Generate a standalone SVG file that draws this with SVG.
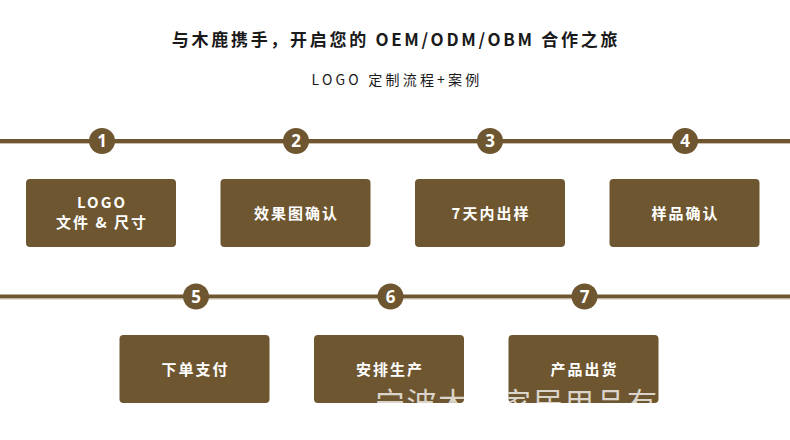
<svg xmlns="http://www.w3.org/2000/svg" width="790" height="440" viewBox="0 0 790 440">
<defs>
<style>
.t{font-family:"Noto Sans CJK SC","Noto Sans",sans-serif;fill:#1a1a1a;text-anchor:middle}
.box{fill:#6e5630}
.bt{font-family:"Noto Sans CJK SC","Noto Sans",sans-serif;font-weight:bold;font-size:15px;fill:#ffffff;text-anchor:middle;letter-spacing:2px}
.num{font-family:"Noto Sans","Noto Sans CJK SC",sans-serif;font-weight:bold;font-size:17px;fill:#ffffff;text-anchor:middle}
.c{fill:#6e5630}
.ln{fill:#6e5630}
.lnh{fill:#cbbfae}
.wm{font-family:"Noto Sans CJK SC",sans-serif;font-size:30px;fill:#ffffff;fill-opacity:0.75;letter-spacing:1.5px}
</style>
<clipPath id="boxclip">
<rect x="119.5" y="335" width="150" height="68" rx="4"/>
<rect x="314" y="335" width="150" height="68" rx="4"/>
<rect x="508.5" y="335" width="150" height="68" rx="4"/>
</clipPath>
</defs>
<rect width="790" height="440" fill="#ffffff"/>
<text class="t" x="396" y="46" font-size="17" font-weight="bold" letter-spacing="2.7">与木鹿携手，开启您的 OEM/ODM/OBM 合作之旅</text>
<text class="t" x="397" y="85" font-size="14" letter-spacing="3.2">LOGO 定制流程+案例</text>
<g id="connectors">
<rect class="ln" x="0" y="139" width="790" height="4"/>
<rect class="lnh" x="0" y="143" width="790" height="1"/>
<rect class="ln" x="0" y="294.5" width="790" height="4"/>
<rect class="lnh" x="0" y="298.5" width="790" height="1"/>
</g>
<g id="step1">
<circle class="c" cx="102" cy="141" r="13"/>
<text class="num" x="102" y="147">1</text>
<rect class="box" x="26" y="179" width="150" height="68" rx="4"/>
<text class="bt" x="102" y="208">LOGO</text>
<text class="bt" x="102" y="228">文件 &amp; 尺寸</text>
</g>
<g id="step2">
<circle class="c" cx="296" cy="141" r="13"/>
<text class="num" x="296" y="147">2</text>
<rect class="box" x="220.5" y="179" width="150" height="68" rx="4"/>
<text class="bt" x="296.5" y="219">效果图确认</text>
</g>
<g id="step3">
<circle class="c" cx="490" cy="141" r="13"/>
<text class="num" x="490" y="147">3</text>
<rect class="box" x="415" y="179" width="150" height="68" rx="4"/>
<text class="bt" x="491" y="219">7天内出样</text>
</g>
<g id="step4">
<circle class="c" cx="685" cy="141" r="13"/>
<text class="num" x="685" y="147">4</text>
<rect class="box" x="609.5" y="179" width="150" height="68" rx="4"/>
<text class="bt" x="685.5" y="219">样品确认</text>
</g>
<g id="step5">
<circle class="c" cx="196" cy="296.5" r="13"/>
<text class="num" x="196" y="302.5">5</text>
<rect class="box" x="119.5" y="335" width="150" height="68" rx="4"/>
<text class="bt" x="195.5" y="375">下单支付</text>
</g>
<g id="step6">
<circle class="c" cx="390.5" cy="296.5" r="13"/>
<text class="num" x="390.5" y="302.5">6</text>
<rect class="box" x="314" y="335" width="150" height="68" rx="4"/>
<text class="bt" x="390" y="375">安排生产</text>
</g>
<g id="step7">
<circle class="c" cx="584.5" cy="296.5" r="13"/>
<text class="num" x="584.5" y="302.5">7</text>
<rect class="box" x="508.5" y="335" width="150" height="68" rx="4"/>
<text class="bt" x="584.5" y="375">产品出货</text>
</g>
<g id="watermark" clip-path="url(#boxclip)">
<text class="wm" x="375" y="414">宁波木鹿家居用品有限公司</text>
</g>
</svg>
